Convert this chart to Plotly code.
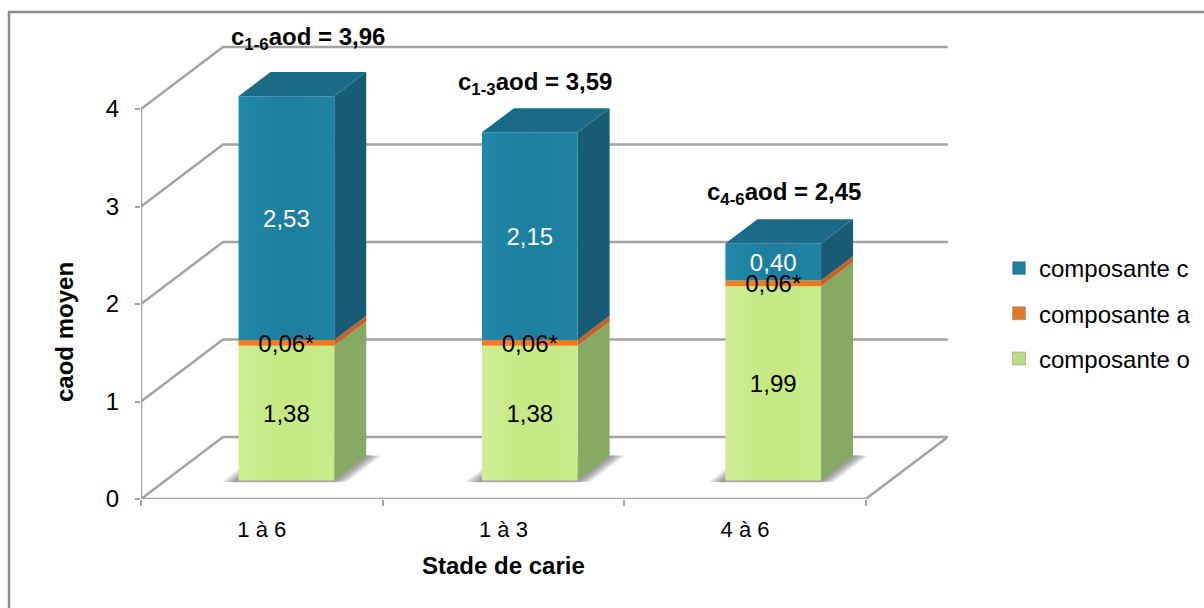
import plotly.graph_objects as go

categories = ["1 à 6", "1 à 3", "4 à 6"]
comp_o = [1.38, 1.38, 1.99]
comp_a = [0.06, 0.06, 0.06]
comp_c = [2.50, 2.13, 0.38]   # heights as drawn in the picture
label_o = ["1,38", "1,38", "1,99"]
label_a = ["0,06*", "0,06*", "0,06*"]
label_c = ["2,53", "2,15", "0,40"]
total_labels = ["c<sub>1-6</sub>aod = 3,96", "c<sub>1-3</sub>aod = 3,59", "c<sub>4-6</sub>aod = 2,45"]
total_x = [0.19, 1.13, 2.16]
total_y = [4.72, 4.26, 3.13]

FONT = "Liberation Sans"
GRID = "#a3a3a3"
TXT = "#000000"
DX, DY = 0.3394, 0.636     # oblique projection of the depth axis (categories, values)
HALF = 0.198               # half bar width
F0, F1 = 0.30, 0.69        # bar front / back in depth
BAR_SPREAD = 1.0075        # bars sit slightly wider apart than the category ticks
LABEL_DROP = 0.03


def P(x, f, v):
    return x + DX * f, v + DY * f


def poly(points, color, gradient=None):
    xs = [p[0] for p in points] + [points[0][0]]
    ys = [p[1] for p in points] + [points[0][1]]
    kw = dict(fillcolor=color)
    if gradient:
        kw = dict(fillgradient=dict(type="horizontal", colorscale=gradient))
    return go.Scatter(x=xs, y=ys, mode="lines", line=dict(width=0), fill="toself",
                      hoverinfo="skip", showlegend=False, **kw)


def line(points, color=GRID, width=2.5):
    return go.Scatter(x=[p[0] for p in points], y=[p[1] for p in points], mode="lines",
                      line=dict(color=color, width=width), hoverinfo="skip", showlegend=False)


fig = go.Figure()

# walls and floor
for v in range(1, 5):
    fig.add_trace(line([P(-0.5, 0, v), P(-0.5, 1, v), P(2.5, 1, v)]))
fig.add_trace(line([P(-0.5, 0, 0), P(-0.5, 1, 0), P(2.5, 1, 0), P(2.5, 0, 0), P(-0.5, 0, 0)]))
fig.add_trace(line([P(-0.5, 0, 0), P(-0.5, 0, 4)]))

series = [
    (comp_o, [[0, "#cdee94"], [0.5, "#c4e882"], [1, "#c9ec8c"]], "#88a963"),
    (comp_a, [[0, "#f08024"], [1, "#ec7a1c"]], "#c4622a"),
    (comp_c, [[0, "#2088a8"], [0.5, "#1d7e9e"], [1, "#1f84a3"]], "#175b75"),
]
top_color = "#1a6b88"

for i in range(len(categories)):
    cx = i * BAR_SPREAD
    x0, x1 = cx - HALF, cx + HALF
    for e in (0.058, 0.044, 0.03, 0.016):
        fig.add_trace(poly([P(x0 - e, F0 - 0.035 + e * 0.2, 0), P(x1 + e, F0 - 0.035 + e * 0.2, 0),
                            P(x1 + e, F1 + 0.02 - e * 0.2, 0), P(x0 - e, F1 + 0.02 - e * 0.2, 0)],
                           "rgba(70,70,70,0.16)"))
    base = 0.0
    for values, grad, side in series:
        top = base + values[i]
        fig.add_trace(poly([P(x1, F0, base), P(x1, F1, base), P(x1, F1, top), P(x1, F0, top)], side))
        fig.add_trace(poly([P(x0, F0, base), P(x1, F0, base), P(x1, F0, top), P(x0, F0, top)], grad[1][1], grad))
        base = top
    fig.add_trace(poly([P(x0, F0, base), P(x1, F0, base), P(x1, F1, base), P(x0, F1, base)], top_color))

# data labels
lx, ly, lt, lc = [], [], [], []
for i in range(len(categories)):
    o, a, c = comp_o[i], comp_a[i], comp_c[i]
    for mid, text, col in [(o / 2, label_o[i], "#000000"),
                           (o + a / 2, label_a[i], "#000000"),
                           (o + a + c / 2, label_c[i], "#ffffff")]:
        px, py = P(i * BAR_SPREAD, F0, mid - LABEL_DROP)
        lx.append(px); ly.append(py); lt.append(text); lc.append(col)
fig.add_trace(go.Scatter(x=lx, y=ly, text=lt, mode="text", textposition="middle center",
                         textfont=dict(family=FONT, size=24, color=lc), hoverinfo="skip",
                         showlegend=False))

# legend entries
for name, col in [("composante c", "#1d7e9e"), ("composante a", "#e07a24"), ("composante o", "#bcdc8a")]:
    fig.add_trace(go.Scatter(x=[None], y=[None], mode="markers", name=name, legendgroup=name,
                             marker=dict(symbol="square", size=13, color=col,
                                         line=dict(color="#8a8a8a", width=0.5))))

L, R, T, B = 141, 948, 14, 499
W, H = R - L, B - T
annotations = [dict(x=tx, y=ty, text="<b>%s</b>" % t, showarrow=False, xref="x", yref="y",
                    font=dict(family=FONT, size=24, color=TXT))
               for t, tx, ty in zip(total_labels, total_x, total_y)]
annotations.append(dict(x=(64 - L) / W, y=(B - 332) / H, text="<b>caod moyen</b>", textangle=-90,
                        showarrow=False, xref="paper", yref="paper", xanchor="center", yanchor="middle",
                        font=dict(family=FONT, size=24, color=TXT)))
annotations.append(dict(x=1.0, y=-(565 - B) / H, text="<b>Stade de carie</b>", showarrow=False,
                        xref="x", yref="paper", xanchor="center", yanchor="middle",
                        font=dict(family=FONT, size=24, color=TXT)))

fx, fy = (9 - L) / W, (B - 12) / H
frame = dict(type="path", xref="paper", yref="paper",
             path="M %f %f L %f %f L %f %f" % (fx, -(620 - B) / H, fx, fy, (1220 - L) / W, fy),
             line=dict(color="#8c8c8c", width=2.5))

UNIT_X, UNIT_Y = 241.6, 97.5
fig.update_layout(
    width=1204, height=608,
    margin=dict(l=L, r=1204 - R, t=T, b=608 - B, autoexpand=False),
    paper_bgcolor="white", plot_bgcolor="rgba(0,0,0,0)",
    font=dict(family=FONT, color=TXT, size=22),
    annotations=annotations,
    shapes=[frame],
    legend=dict(x=(999 - L) / W, y=(B - 246) / H, xanchor="left", yanchor="top", tracegroupgap=11,
                bgcolor="rgba(0,0,0,0)", font=dict(family=FONT, size=24, color=TXT)),
    xaxis=dict(range=[-0.5, -0.5 + W / UNIT_X], tickmode="array", tickvals=[0, 1, 2], ticktext=categories,
               showgrid=False, zeroline=False, showline=False, ticks="", ticklen=0, ticklabelstandoff=15,
               minor=dict(tickmode="array", tickvals=[-0.5, 0.5, 1.5, 2.5], ticks="outside",
                          ticklen=6, tickcolor=GRID, tickwidth=2, showgrid=False),
               tickfont=dict(family=FONT, size=22)),
    yaxis=dict(range=[0, H / UNIT_Y], tickmode="array", tickvals=[0, 1, 2, 3, 4], ticktext=["0", "1", "2", "3", "4"],
               showgrid=False, zeroline=False, showline=False, ticks="outside", ticklen=5, ticklabelstandoff=11,
               tickcolor=GRID, tickwidth=2, tickfont=dict(family=FONT, size=24)),
)

fig.write_html("out.html", post_script="document.body.style.margin='0';",
               config=dict(displayModeBar=False))
